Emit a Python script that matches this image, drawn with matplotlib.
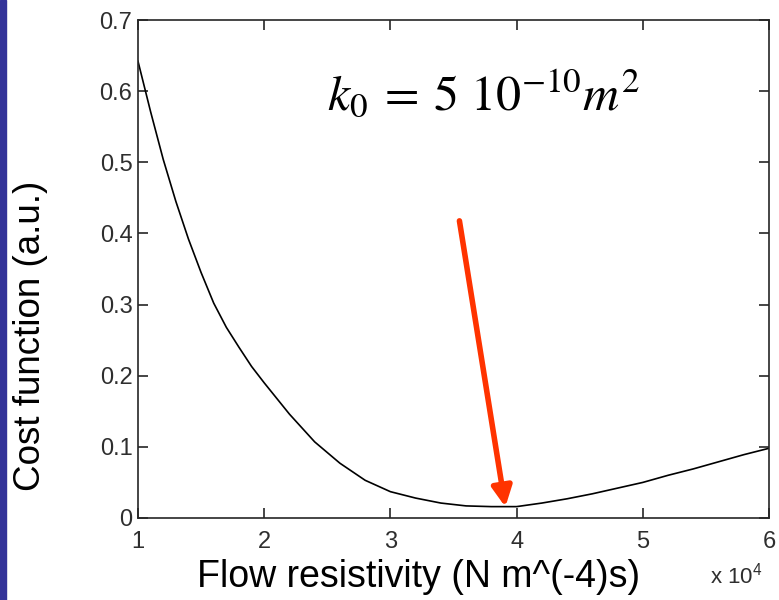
import matplotlib
matplotlib.use("Agg")
import matplotlib.pyplot as plt
from matplotlib.patches import Rectangle

# Flow resistivity (x 10^4) and cost function
sigma = [1.0, 1.1, 1.2, 1.3, 1.4, 1.5, 1.6, 1.7, 1.8, 1.9, 2.0, 2.2, 2.4, 2.6,
         2.8, 3.0, 3.2, 3.4, 3.6, 3.8, 4.0, 4.2, 4.4, 4.6, 4.8, 5.0, 5.2, 5.4,
         5.6, 5.8, 6.0]
cost = [0.642, 0.571, 0.504, 0.445, 0.392, 0.345, 0.302, 0.268, 0.240, 0.213,
        0.190, 0.146, 0.107, 0.077, 0.053, 0.037, 0.028, 0.021, 0.017, 0.016,
        0.016, 0.021, 0.027, 0.034, 0.042, 0.050, 0.060, 0.069, 0.079, 0.089,
        0.098]

xticks = [1, 2, 3, 4, 5, 6]
yticks = [0, 0.1, 0.2, 0.3, 0.4, 0.5, 0.6, 0.7]
ytick_labels = ["0", "0.1", "0.2", "0.3", "0.4", "0.5", "0.6", "0.7"]

plt.rcParams['font.family'] = ['Liberation Sans', 'DejaVu Sans']
plt.rcParams['mathtext.fontset'] = 'custom'
plt.rcParams['mathtext.rm'] = 'Liberation Sans'

fig = plt.figure(figsize=(7.79, 6), dpi=100)
ax = fig.add_axes([138 / 779, 82 / 600, 631 / 779, 498 / 600])

ax.plot(sigma, cost, color='black', linewidth=1.2)

ax.set_xlim(1, 6)
ax.set_ylim(0, 0.7)
ax.set_xticks(xticks)
ax.set_xticklabels([str(t) for t in xticks])
ax.set_yticks(yticks)
ax.set_yticklabels(ytick_labels)
ax.tick_params(direction='in', length=7, width=1.2, top=True, right=True,
               labelsize=17, labelcolor='#2e2e2e', color='#262626', pad=4)
ax.tick_params(axis='x', pad=9)
for s in ax.spines.values():
    s.set_linewidth(1.2)
    s.set_color('#262626')

# axis labels placed in figure pixels like the reference
fig.text(419 / 779, 1 - 577 / 600, "Flow resistivity (N m^(-4)s)", fontsize=27,
         ha='center', va='center')
fig.text(31 / 779, 1 - 336 / 600, "Cost function (a.u.)", fontsize=26.5,
         ha='center', va='center', rotation=90)

# exponent of the x axis
fig.text(710 / 779, 1 - 576 / 600, r"x 10$^{4}$", fontsize=16, color='#2e2e2e',
         va='center', ha='left')

# permeability annotation
ax.text(189 / 631, 408 / 498, r"$k_0\:=\:5\ 10^{-10}m^2$", transform=ax.transAxes,
        fontsize=36, math_fontfamily='stix', va='baseline', ha='left')

# red arrow pointing at the minimum
ax.annotate("", xy=(3.911, 0.0155), xytext=(3.547, 0.4177),
            arrowprops=dict(arrowstyle='-|>', color='#ff3300', lw=4,
                            mutation_scale=30, shrinkA=0, shrinkB=0))

# dark blue strip on the left edge
fig.patches.append(Rectangle((0, 0), 6 / 779, 1, transform=fig.transFigure,
                             color='#333399', zorder=0))

fig.savefig("out.png", dpi=100)
